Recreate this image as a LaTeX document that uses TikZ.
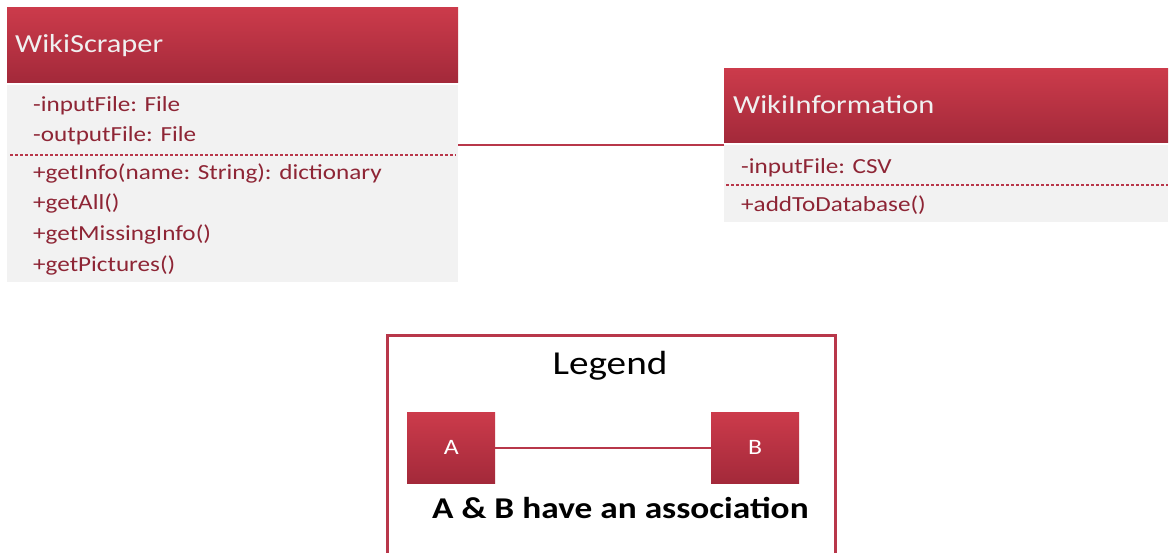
\documentclass[tikz,border=0pt]{standalone}
\usepackage{fontspec}
\usepackage{graphicx}
\setmainfont{Carlito}
\newcommand{\hstretch}[1]{\scalebox{1.17}[1]{#1}}
\definecolor{hdtop}{HTML}{CC3B4B}
\definecolor{hdbot}{HTML}{A3293A}
\definecolor{bodyfill}{HTML}{F2F2F2}
\definecolor{membertxt}{HTML}{8E2535}
\definecolor{linered}{HTML}{B8374A}
\begin{document}
\begin{tikzpicture}[x=1pt,y=-1pt,
  header/.style={rectangle, draw=none, top color=hdtop, bottom color=hdbot, anchor=north west, inner sep=0pt},
  body/.style={rectangle, draw=none, fill=bodyfill, anchor=north west, inner sep=0pt},
  htext/.style={anchor=base west, text=white!94!black, font=\fontsize{26}{30}\selectfont, inner sep=0pt},
  mtext/.style={anchor=base west, text=membertxt, font=\fontsize{21.5}{25}\selectfont, inner sep=0pt},
  sep/.style={draw=linered, dashed, dash pattern=on 3pt off 2pt, line width=1.2pt},
  assoc/.style={draw=linered, line width=1.6pt},
  legbox/.style={rectangle, draw=linered, line width=3pt, fill=white, anchor=north west, inner sep=0pt},
  smallbox/.style={rectangle, top color=hdtop, bottom color=hdbot, anchor=north west, inner sep=0pt, minimum width=88pt, minimum height=71pt, text=white, font=\fontsize{22}{26}\selectfont}
]
\useasboundingbox[fill=white] (0,0) rectangle (1170,553);

% WikiScraper
\node[header, minimum width=451pt, minimum height=75pt] (wsh) at (7,7) {};
\node[body, minimum width=451pt, minimum height=197pt] (wsb) at (7,85) {};
\node[htext] (wst) at (15,53) {\hstretch{WikiScraper}};
\node[mtext] (ws1) at (33,112) {\hstretch{-inputFile: File}};
\node[mtext] (ws2) at (33,142) {\hstretch{-outputFile: File}};
\coordinate (wsdl) at (10,155);
\coordinate (wsdr) at (456,155);
\draw[sep] (wsdl) -- (wsdr);
\node[mtext] (ws3) at (33,180) {\hstretch{+getInfo(name: String): dictionary}};
\node[mtext] (ws4) at (33,210) {\hstretch{+getAll()}};
\node[mtext] (ws5) at (33,241) {\hstretch{+getMissingInfo()}};
\node[mtext] (ws6) at (33,272) {\hstretch{+getPictures()}};

% WikiInformation
\node[header, minimum width=444pt, minimum height=74pt] (wih) at (724,68) {};
\node[body, minimum width=444pt, minimum height=77pt] (wib) at (724,145) {};
\node[htext] (wit) at (733,114) {\hstretch{WikiInformation}};
\node[mtext] (wi1) at (741,174) {\hstretch{-inputFile: CSV}};
\coordinate (widl) at (726,185);
\coordinate (widr) at (1168,185);
\draw[sep] (widl) -- (widr);
\node[mtext] (wi2) at (741,212) {\hstretch{+addToDatabase()}};

% association
\draw[assoc] (wsh.south east |- 0,145) -- (wih.south west |- 0,145);

% Legend
\node[legbox, minimum width=448pt, minimum height=230pt] (leg) at (386,334) {};
\node[anchor=base, font=\fontsize{33.5}{38}\selectfont, inner sep=0pt] (legt) at (610,374) {\hstretch{Legend}};
\node[smallbox] (a) at (407,412) {\hstretch{A}};
\node[smallbox] (b) at (711,412) {\hstretch{B}};
\draw[assoc] (a.east) -- (b.west);
\node[anchor=base west, font=\bfseries\fontsize{30.2}{34}\selectfont, inner sep=0pt] (legd) at (432,518) {\hstretch{A \& B have an association}};
\end{tikzpicture}
\end{document}
